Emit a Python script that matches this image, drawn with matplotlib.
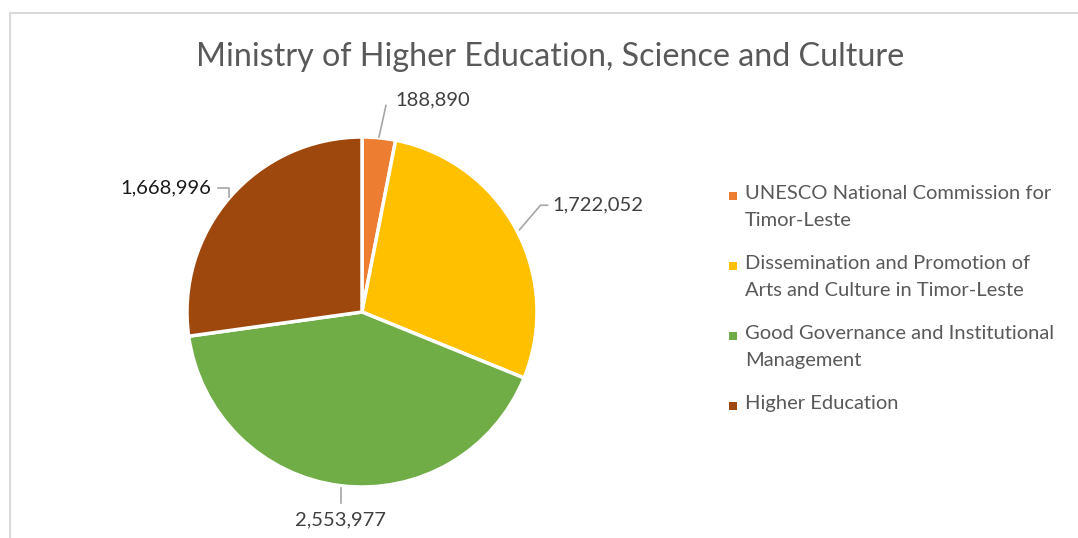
import numpy as np
import matplotlib
matplotlib.use("Agg")
import matplotlib.pyplot as plt
from matplotlib.lines import Line2D
from matplotlib.patches import Rectangle

# Budget allocation by programme
programmes = [
    "UNESCO National Commission for\nTimor-Leste",
    "Dissemination and Promotion of\nArts and Culture in Timor-Leste",
    "Good Governance and Institutional\nManagement",
    "Higher Education",
]
amounts = [188890, 1722052, 2553977, 1668996]
colors = ["#ED7D31", "#FFC000", "#70AD47", "#9E480E"]
title = "Ministry of Higher Education, Science and Culture"

plt.rcParams["font.family"] = ["Lato", "DejaVu Sans"]

W, H = 1078, 538
fig = plt.figure(figsize=(W / 100, H / 100), dpi=100)
fig.patch.set_facecolor("white")

# chart frame (top and left edges visible)
fig.add_artist(Line2D([10 / W, 1.0], [1 - 13 / H, 1 - 13 / H], color="#D9D9D9", lw=1.5))
fig.add_artist(Line2D([10 / W, 10 / W], [0.0, 1 - 13 / H], color="#D9D9D9", lw=1.5))

fig.text(550 / W, 1 - 57 / H, title, ha="center", va="center",
         fontsize=23.2, color="#595959")

# pie axes: center (362, 312) px, radius 175 px, limits +-1.25
cx, cy, r = 362, 312, 175
span = 2.5 * r
ax = fig.add_axes([(cx - span / 2) / W, (H - cy - span / 2) / H, span / W, span / H])
wedges, _ = ax.pie(amounts, colors=colors, startangle=90, counterclock=False,
                   wedgeprops=dict(edgecolor="white", linewidth=2.5))
ax.set_xlim(-1.25, 1.25)
ax.set_ylim(-1.25, 1.25)
ax.set_aspect("equal")
ax.axis("off")

# data labels with leader lines
label_cfg = [
    dict(xy=(0.19, 1.21), ha="left", va="center", color="#404040",
         line=[(0.097, 1.0), (0.137, 1.18)]),
    dict(xy=(1.09, 0.61), ha="left", va="center", color="#404040",
         line=[(0.90, 0.47), (1.02, 0.61), (1.06, 0.61)]),
    dict(xy=(-0.126, -1.19), ha="center", va="center", color="#404040",
         line=[(-0.12, -1.006), (-0.12, -1.09)]),
    dict(xy=(-0.86, 0.709), ha="right", va="center", color="#1A1A1A",
         line=[(-0.823, 0.709), (-0.758, 0.709), (-0.758, 0.66)]),
]
for amt, cfg in zip(amounts, label_cfg):
    xs, ys = zip(*cfg["line"])
    ax.plot(xs, ys, color="#A6A6A6", lw=1.2, clip_on=False)
    ax.text(cfg["xy"][0], cfg["xy"][1], f"{amt:,}", ha=cfg["ha"], va=cfg["va"],
            fontsize=14.5, color=cfg["color"], clip_on=False)

# legend
leg_x, leg_y0, leg_gap = 733, 196, 70
for i, (name, col) in enumerate(zip(programmes, colors)):
    y = leg_y0 + i * leg_gap
    fig.add_artist(Rectangle(((leg_x - 4) / W, 1 - (y + 4) / H), 8 / W, 8 / H,
                             facecolor=col, edgecolor="none"))
    fig.text((leg_x + 12) / W, 1 - (y - 11) / H, name, ha="left", va="top",
             fontsize=14.5, color="#595959", linespacing=1.74)

fig.savefig("out.png", dpi=100, facecolor="white")
